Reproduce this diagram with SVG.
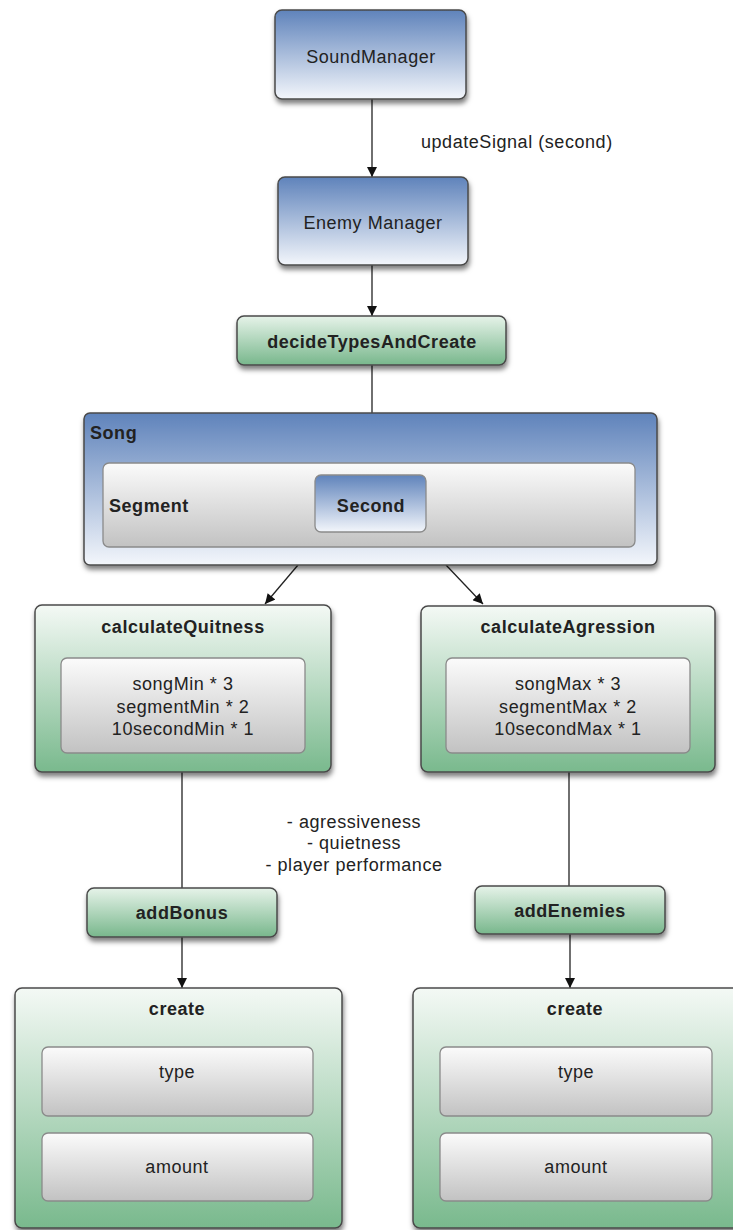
<svg xmlns="http://www.w3.org/2000/svg" width="733" height="1230" viewBox="0 0 733 1230">
<style>
.t{font-family:"Liberation Sans",Arial,sans-serif;font-size:18px;fill:#222;letter-spacing:0.55px}
.b{font-weight:bold}
.m{text-anchor:middle}
.box{stroke:#4a4a4a;stroke-width:1.5}
.in{stroke:#8a8a8a;stroke-width:1.3}
.ln{stroke:#222;stroke-width:1.3;fill:none}
</style>
<defs>
<linearGradient id="blue" x1="0" y1="0" x2="0" y2="1">
<stop offset="0" stop-color="#5f83bb"/><stop offset="1" stop-color="#f3f6fb"/>
</linearGradient>
<linearGradient id="green" x1="0" y1="0" x2="0" y2="1">
<stop offset="0" stop-color="#f4f9f5"/><stop offset="1" stop-color="#79b98d"/>
</linearGradient>
<linearGradient id="green2" x1="0" y1="0" x2="0" y2="1">
<stop offset="0" stop-color="#e6f3e9"/><stop offset="1" stop-color="#78b78c"/>
</linearGradient>
<linearGradient id="gray" x1="0" y1="0" x2="0" y2="1">
<stop offset="0" stop-color="#fbfbfb"/><stop offset="1" stop-color="#c2c2c2"/>
</linearGradient>
<filter id="sh" x="-10%" y="-10%" width="125%" height="135%">
<feDropShadow dx="1" dy="4" stdDeviation="2.5" flood-color="#000" flood-opacity="0.5"/>
</filter>
<marker id="ah" viewBox="0 0 10 10" refX="10" refY="5" markerWidth="11" markerHeight="10" markerUnits="userSpaceOnUse" orient="auto">
<path d="M0,0 L10,5 L0,10 z" fill="#111"/>
</marker>
</defs>

<g id="connectors">
<line class="ln" x1="372" y1="99" x2="372" y2="177" marker-end="url(#ah)"/>
<line class="ln" x1="372" y1="265" x2="372" y2="316" marker-end="url(#ah)"/>
<line class="ln" x1="372" y1="365" x2="372" y2="413"/>
<line class="ln" x1="298" y1="565" x2="265" y2="604" marker-end="url(#ah)"/>
<line class="ln" x1="446" y1="565" x2="483" y2="604" marker-end="url(#ah)"/>
<line class="ln" x1="182" y1="772" x2="182" y2="888"/>
<line class="ln" x1="569" y1="772" x2="569" y2="886"/>
<line class="ln" x1="182" y1="937" x2="182" y2="988" marker-end="url(#ah)"/>
<line class="ln" x1="570" y1="934" x2="570" y2="988" marker-end="url(#ah)"/>
<text class="t" x="421" y="148">updateSignal (second)</text>
<text class="t m" x="354" y="828">- agressiveness</text>
<text class="t m" x="354" y="849">- quietness</text>
<text class="t m" x="354" y="871">- player performance</text>
</g>

<g id="soundManager">
<rect class="box" x="275" y="10" width="191" height="89" rx="7" fill="url(#blue)" filter="url(#sh)"/>
<text class="t m" x="371" y="63">SoundManager</text>
</g>

<g id="enemyManager">
<rect class="box" x="278" y="177" width="190" height="88" rx="7" fill="url(#blue)" filter="url(#sh)"/>
<text class="t m" x="373" y="229">Enemy Manager</text>
</g>

<g id="decideTypesAndCreate">
<rect class="box" x="237" y="316" width="269" height="49" rx="7" fill="url(#green2)" filter="url(#sh)"/>
<text class="t b m" x="372" y="348">decideTypesAndCreate</text>
</g>

<g id="song">
<rect class="box" x="84" y="413" width="573" height="152" rx="6" fill="url(#blue)" filter="url(#sh)" stroke="#6a6a6a"/>
<text class="t b" x="90" y="439">Song</text>
<g id="segment">
<rect class="in" x="103" y="463" width="532" height="84" rx="6" fill="url(#gray)"/>
<text class="t b" x="109" y="512">Segment</text>
</g>
<g id="second">
<rect class="in" x="315" y="475" width="111" height="57" rx="6" fill="url(#blue)"/>
<text class="t b m" x="371" y="512">Second</text>
</g>
</g>

<g id="calculateQuitness">
<rect class="box" x="35" y="605" width="296" height="167" rx="7" fill="url(#green)" filter="url(#sh)" stroke="#777"/>
<text class="t b m" x="183" y="633">calculateQuitness</text>
<rect class="in" x="61" y="658" width="244" height="95" rx="6" fill="url(#gray)"/>
<text class="t m" x="183" y="690">songMin * 3</text>
<text class="t m" x="183" y="713">segmentMin * 2</text>
<text class="t m" x="183" y="735">10secondMin * 1</text>
</g>

<g id="calculateAgression">
<rect class="box" x="421" y="606" width="294" height="166" rx="7" fill="url(#green)" filter="url(#sh)" stroke="#777"/>
<text class="t b m" x="568" y="633">calculateAgression</text>
<rect class="in" x="446" y="658" width="244" height="95" rx="6" fill="url(#gray)"/>
<text class="t m" x="568" y="690">songMax * 3</text>
<text class="t m" x="568" y="713">segmentMax * 2</text>
<text class="t m" x="568" y="735">10secondMax * 1</text>
</g>

<g id="addBonus">
<rect class="box" x="87" y="888" width="190" height="49" rx="7" fill="url(#green2)" filter="url(#sh)"/>
<text class="t b m" x="182" y="919">addBonus</text>
</g>

<g id="addEnemies">
<rect class="box" x="475" y="886" width="190" height="48" rx="7" fill="url(#green2)" filter="url(#sh)"/>
<text class="t b m" x="570" y="917">addEnemies</text>
</g>

<g id="createLeft">
<rect class="box" x="15" y="988" width="327" height="240" rx="7" fill="url(#green)" filter="url(#sh)" stroke="#777"/>
<text class="t b m" x="177" y="1015">create</text>
<rect class="in" x="42" y="1047" width="271" height="69" rx="6" fill="url(#gray)"/>
<text class="t m" x="177" y="1078">type</text>
<rect class="in" x="42" y="1133" width="271" height="68" rx="6" fill="url(#gray)"/>
<text class="t m" x="177" y="1173">amount</text>
</g>

<g id="createRight">
<rect class="box" x="413" y="988" width="328" height="240" rx="7" fill="url(#green)" filter="url(#sh)" stroke="#777"/>
<text class="t b m" x="575" y="1015">create</text>
<rect class="in" x="440" y="1047" width="272" height="69" rx="6" fill="url(#gray)"/>
<text class="t m" x="576" y="1078">type</text>
<rect class="in" x="440" y="1133" width="272" height="68" rx="6" fill="url(#gray)"/>
<text class="t m" x="576" y="1173">amount</text>
</g>
</svg>
